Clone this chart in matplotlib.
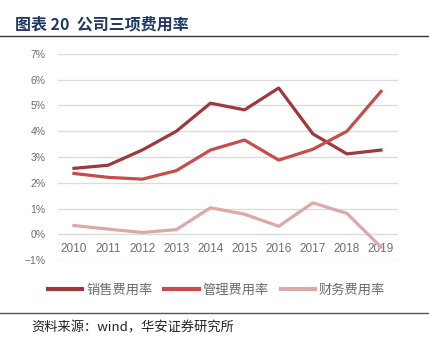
import numpy as np
import matplotlib
matplotlib.use('Agg')
import matplotlib.pyplot as plt

plt.rcParams['font.family'] = ['Noto Sans CJK SC', 'DejaVu Sans']

years = ['2010', '2011', '2012', '2013', '2014', '2015', '2016', '2017', '2018', '2019']
sales = [2.56, 2.68, 3.27, 4.00, 5.09, 4.83, 5.68, 3.90, 3.12, 3.27]   # 销售费用率
admin = [2.36, 2.21, 2.14, 2.47, 3.27, 3.66, 2.88, 3.30, 4.00, 5.55]   # 管理费用率
finance = [0.34, 0.20, 0.07, 0.18, 1.03, 0.78, 0.31, 1.22, 0.81, -0.50]  # 财务费用率
names = ['销售费用率', '管理费用率', '财务费用率']
colors = ['#A0373A', '#C84C4C', '#DDA8A8']
yticks = [-1, 0, 1, 2, 3, 4, 5, 6, 7]

fig = plt.figure(figsize=(4.29, 3.54), dpi=100)
ax = fig.add_axes([0.135, 0.2655, 0.793, 0.582])

x = np.arange(len(years))
for vals, name, c in zip([sales, admin, finance], names, colors):
    ax.plot(x, vals, color=c, lw=2.3, label=name)

# x axis sits on the 0% line (set first, it resets the ticks)
ax.spines['bottom'].set_position(('data', 0))
for s in ax.spines.values():
    s.set_visible(False)

ax.set_ylim(-1, 7)
ax.set_xlim(-0.47, 9.5)
ax.set_yticks(yticks)
ax.set_yticklabels(['%d%%' % v if v >= 0 else '\u2212%d%%' % -v for v in yticks],
                   family=['Liberation Sans'], fontsize=7.5, color='#6E6E6E')
ax.yaxis.grid(True, color='#DCDCDC', lw=1)
ax.set_axisbelow(True)
ax.set_xticks(x)
ax.set_xticklabels(years, family=['Liberation Sans'], fontsize=8.5, color='#6E6E6E')
ax.tick_params(axis='x', length=0, pad=6)
ax.tick_params(axis='y', length=0, pad=9)

leg = fig.legend(loc='center', bbox_to_anchor=(0.505, 0.18), ncol=3, frameon=False,
                 fontsize=9.5, handlelength=2.6, columnspacing=0.9, handletextpad=0.3)
for t in leg.get_texts():
    t.set_color('#6B6B6B')
for h in leg.get_lines():
    h.set_linewidth(3)

fig.text(0.035, 0.93, '图表 20  公司三项费用率', fontsize=11.5, fontweight='bold',
         color='#1F3864', va='center')
fig.add_artist(plt.Line2D([0, 1], [0.898, 0.898], color='#333333', lw=1))
fig.add_artist(plt.Line2D([0, 1], [0.116, 0.116], color='#555555', lw=1))
fig.text(0.072, 0.073, '资料来源：wind，华安证券研究所', fontsize=9.5, color='#222222', va='center')

fig.savefig('out.png', dpi=100)
